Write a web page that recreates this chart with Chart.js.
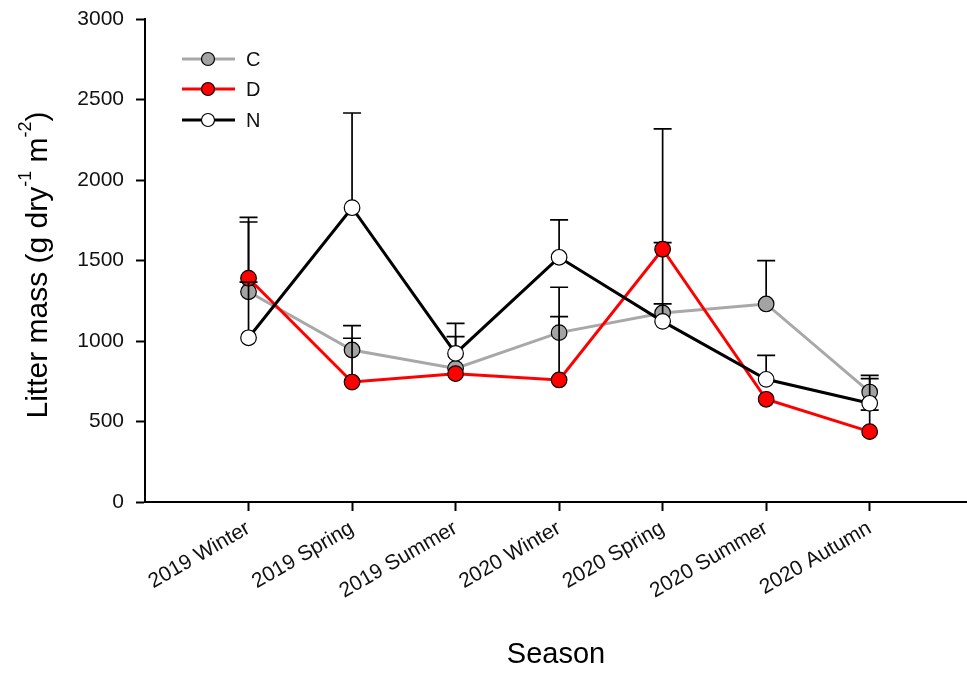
<!DOCTYPE html>
<html>
<head>
<meta charset="utf-8">
<script src="https://cdn.jsdelivr.net/npm/chart.js@4"></script>
<style>
  html, body { margin: 0; padding: 0; background: #fff; }
  #wrap { width: 967px; height: 675px; }
</style>
</head>
<body>
<div id="wrap"><canvas id="chart" width="967" height="675"></canvas></div>
<script>
// seasons on the x axis
const seasons = ["2019 Winter", "2019 Spring", "2019 Summer", "2020 Winter", "2020 Spring", "2020 Summer", "2020 Autumn"];

// litter mass means per treatment
const valC = [1306, 944, 830, 1052, 1174, 1230, 683];
const valD = [1390, 745, 797, 758, 1570, 638, 437];
const valN = [1020, 1828, 923, 1520, 1122, 762, 613];

// upper error bar lengths (null = not visible)
const errC = [433, 151, 197, 282, 437, 269, 104];
const errD = [378, 272, null, 393, 747, null, 134];
const errN = [346, 588, 187, 232, 108, 149, 153];

const yTicks = [0, 500, 1000, 1500, 2000, 2500, 3000];

const FONT = "'Liberation Sans', Arial, sans-serif";

function pts(vals) {
  return vals.map((v, i) => ({ x: i + 1, y: v }));
}

const series = [
  { label: "C", vals: valC, errs: errC, line: "#a8a8a8", fill: "#a3a3a3" },
  { label: "D", vals: valD, errs: errD, line: "#ff0000", fill: "#ff0000" },
  { label: "N", vals: valN, errs: errN, line: "#000000", fill: "#ffffff" }
];

// error bars drawn just before each dataset, so markers sit on top
const errorBars = {
  id: "errorBars",
  beforeDatasetDraw(chart, args) {
    const s = series[args.index];
    const x = chart.scales.x, y = chart.scales.y;
    const ctx = chart.ctx;
    ctx.save();
    ctx.strokeStyle = "#000";
    ctx.lineWidth = 1.7;
    s.vals.forEach((v, i) => {
      const e = s.errs[i];
      if (e == null) return;
      const px = x.getPixelForValue(i + 1);
      const y0 = y.getPixelForValue(v);
      const y1 = y.getPixelForValue(v + e);
      ctx.beginPath();
      ctx.moveTo(px, y0);
      ctx.lineTo(px, y1);
      ctx.moveTo(px - 9, y1);
      ctx.lineTo(px + 9, y1);
      ctx.stroke();
    });
    ctx.restore();
  }
};

// y title with superscripts and the legend box
const extras = {
  id: "extras",
  afterDraw(chart) {
    const ctx = chart.ctx;
    ctx.save();
    // y axis title
    ctx.translate(39, 265);
    ctx.rotate(-Math.PI / 2);
    const parts = [
      { t: "Litter mass (g dry", sup: false },
      { t: "-1", sup: true },
      { t: " m", sup: false },
      { t: "-2", sup: true },
      { t: ")", sup: false }
    ];
    let total = 0;
    parts.forEach(p => {
      ctx.font = (p.sup ? "18px " : "30px ") + FONT;
      p.w = ctx.measureText(p.t).width;
      total += p.w;
    });
    let cx = -total / 2;
    ctx.fillStyle = "#000";
    ctx.textBaseline = "middle";
    parts.forEach(p => {
      ctx.font = (p.sup ? "18px " : "30px ") + FONT;
      ctx.fillText(p.t, cx, p.sup ? -13 : 0);
      cx += p.w;
    });
    ctx.restore();

    // legend
    ctx.save();
    const rows = [59, 89, 120];
    series.forEach((s, i) => {
      const ly = rows[i];
      ctx.strokeStyle = s.line;
      ctx.lineWidth = 3;
      ctx.beginPath();
      ctx.moveTo(182, ly);
      ctx.lineTo(235, ly);
      ctx.stroke();
      ctx.beginPath();
      ctx.arc(208, ly, 6.5, 0, Math.PI * 2);
      ctx.fillStyle = s.fill;
      ctx.fill();
      ctx.strokeStyle = "#000";
      ctx.lineWidth = 1.2;
      ctx.stroke();
      ctx.fillStyle = "#111";
      ctx.font = "20px " + FONT;
      ctx.textBaseline = "middle";
      ctx.fillText(s.label, 246, ly + 1);
    });
    ctx.restore();
  }
};

const datasets = series.map((s, i) => ({
  label: s.label,
  data: pts(s.vals),
  borderColor: s.line,
  borderWidth: 3,
  pointRadius: 7.8,
  pointHoverRadius: 7.8,
  pointBackgroundColor: s.fill,
  pointBorderColor: "#000",
  pointBorderWidth: 1.2,
  tension: 0,
  fill: false,
  order: 2 - i
}));

new Chart(document.getElementById("chart").getContext("2d"), {
  type: "line",
  data: { datasets },
  plugins: [errorBars, extras],
  options: {
    responsive: false,
    animation: false,
    events: [],
    layout: { autoPadding: false, padding: { top: 19, right: 0, bottom: 0, left: 0 } },
    plugins: { legend: { display: false }, tooltip: { enabled: false } },
    scales: {
      x: {
        type: "linear",
        min: 0,
        max: 7.94,
        afterFit(scale) { scale.height = 173; scale.paddingRight = 0; scale.paddingLeft = 0; },
        afterBuildTicks(scale) { scale.ticks = seasons.map((s, i) => ({ value: i + 1 })); },
        ticks: {
          autoSkip: false,
          minRotation: 30,
          maxRotation: 30,
          padding: 5,
          color: "#111",
          font: { family: FONT, size: 21 },
          callback: (v) => seasons[v - 1] || ""
        },
        grid: { drawOnChartArea: false, drawTicks: true, tickLength: 9, tickWidth: 2, tickColor: "#000" },
        border: { display: true, color: "#000", width: 2 },
        title: {
          display: true,
          text: "Season",
          color: "#000",
          font: { family: FONT, size: 29 },
          padding: { top: 0, bottom: 3 }
        }
      },
      y: {
        min: 0,
        max: 3000,
        afterFit(scale) { scale.width = 145; scale.paddingTop = 0; scale.paddingBottom = 0; },
        afterBuildTicks(scale) { scale.ticks = yTicks.map(v => ({ value: v })); },
        ticks: {
          padding: 12,
          color: "#111",
          font: { family: FONT, size: 21 },
          callback: (v) => String(v)
        },
        grid: { drawOnChartArea: false, drawTicks: true, tickLength: 9, tickWidth: 2, tickColor: "#000" },
        border: { display: true, color: "#000", width: 2 }
      }
    }
  }
});
</script>
</body>
</html>
